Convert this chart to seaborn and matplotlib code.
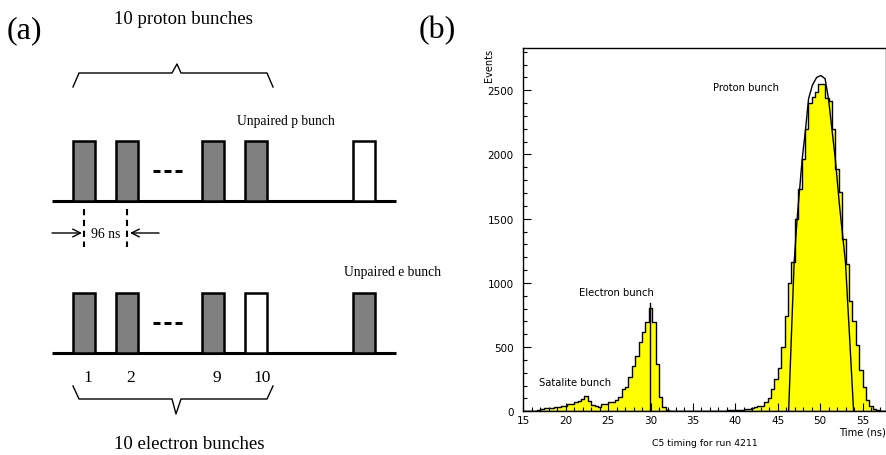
import numpy as np
import pandas as pd
import matplotlib
matplotlib.use("Agg")
import matplotlib.pyplot as plt
from matplotlib.patches import Rectangle
from matplotlib.ticker import MultipleLocator
import seaborn as sns

# ---------------- data ----------------
# (a) bunch diagram
bunch_labels = ["1", "2", "9", "10", ""]
bunch_slots = [0, 1, 3, 4, 6.5]
proton_filled = [True, True, True, True, False]
electron_filled = [True, True, True, False, True]

# (b) C5 timing histogram, 0.4 ns bins starting at 15 ns
bin_start = 15.0
bin_width = 0.4
events = [3, 4, 5, 6, 10, 18, 22, 26, 28, 34,          # 15.0 - 18.6
          36, 42, 45, 55, 60, 72, 80, 92, 122, 83,     # 19.0 - 22.6
          50, 40, 36, 55, 60, 70, 75, 90, 109, 174,    # 23.0 - 26.6
          187, 265, 356, 434, 538, 616, 694, 803, 694, 369,  # 27.0 - 30.6
          110, 30, 10, 5, 4, 3, 3, 2, 3, 4,            # 31.0 - 34.6
          3, 3, 4, 3, 4, 5, 4, 5, 6, 6,                # 35.0 - 38.6
          7, 8, 10, 12, 13, 16, 18, 26, 33, 40,        # 39.0 - 42.6
          44, 70, 100, 170, 250, 340, 500, 745, 1000, 1161,   # 43.0 - 46.6
          1500, 1732, 1966, 2200, 2400, 2450, 2486, 2550, 2550, 2440,  # 47.0 - 50.6
          2420, 2200, 1886, 1706, 1343, 1148, 862, 700, 520, 320,      # 51.0 - 54.6
          190, 90, 40, 15, 7, 3, 2]                    # 55.0 - 57.4
# fitted curves
proton_fit_t = [46.28, 46.58, 46.93, 47.28, 47.88, 48.28, 48.63, 49.08, 49.58, 50.08,
                50.58, 50.98, 51.38, 51.78, 52.28, 52.68, 52.98, 53.48, 53.94]
proton_fit_v = [0, 540, 1160, 1500, 1966, 2200, 2434, 2540, 2600, 2615,
                2590, 2434, 2200, 1966, 1600, 1350, 1161, 560, 0]
electron_fit_t = [29.94, 29.94]
electron_fit_v = [0, 841]

# ---------------- figure ----------------
fig = plt.figure(figsize=(8.86, 4.56), dpi=100)
serif = "Liberation Serif"

# ----- (a) diagram in pixel-like units -----
axa = fig.add_axes([0, 0, 440 / 886, 1])
axa.set_xlim(0, 440)
axa.set_ylim(456, 0)
axa.axis("off")

x0, pitch, bw = 84, 43, 22
centers = [x0 + pitch * s for s in bunch_slots]
gray = "#808080"

def draw_row(base_y, top_y, filled, dots_y):
    axa.plot([52, 396], [base_y, base_y], color="black", lw=2.2, solid_capstyle="butt")
    for c, f in zip(centers, filled):
        axa.add_patch(Rectangle((c - bw / 2, top_y), bw, base_y - top_y,
                                facecolor=gray if f else "white",
                                edgecolor="black", lw=1.8, zorder=3))
    for a in (153, 164, 175):
        axa.plot([a, a + 7], [dots_y, dots_y], color="black", lw=2.2, solid_capstyle="butt")

draw_row(202, 142, proton_filled, 172)
draw_row(354, 294, electron_filled, 324)

# dashed markers and arrows
for c in centers[:2]:
    axa.plot([c, c], [210, 248], color="black", lw=1.5, ls=(0, (3, 2.2)))
axa.annotate("", xy=(82, 234), xytext=(52, 234),
             arrowprops=dict(arrowstyle="->", lw=1, mutation_scale=14, shrinkA=0, shrinkB=0))
axa.annotate("", xy=(130, 234), xytext=(159, 234),
             arrowprops=dict(arrowstyle="->", lw=1, mutation_scale=14, shrinkA=0, shrinkB=0))
axa.text(106, 235, "96 ns", family=serif, fontsize=9.8, ha="center", va="center")

# braces
axa.plot([73, 79, 172, 177, 181, 267, 273], [88, 74, 74, 65, 74, 74, 88], color="black", lw=1)
axa.plot([73, 79, 172, 176, 181, 267, 273], [387, 400, 400, 415, 400, 400, 387], color="black", lw=1)

# labels
axa.text(24, 31, "(a)", family=serif, fontsize=23, ha="center", va="center")
axa.text(183, 20, "10 proton bunches", family=serif, fontsize=13.5, ha="center", va="center")
axa.text(286, 122, "Unpaired p bunch", family=serif, fontsize=9.8, ha="center", va="center")
axa.text(393, 273, "Unpaired e bunch", family=serif, fontsize=9.8, ha="center", va="center")
axa.text(189, 445, "10 electron bunches", family=serif, fontsize=13.5, ha="center", va="center")
for c, lab in zip(centers, bunch_labels):
    axa.text(c + (6 if lab == "10" else 4), 378, lab,
             family=serif, fontsize=12.5, ha="center", va="center")
axa.text(437, 31, "(b)", family=serif, fontsize=23, ha="center", va="center", clip_on=False)

# ----- (b) histogram -----
axb = fig.add_axes([523.3 / 886, (456 - 412.3) / 456, (885.5 - 523.3) / 886, (412.3 - 49.3) / 456])
n = len(events)
centers_t = bin_start + bin_width * (np.arange(n) + 0.5)
df = pd.DataFrame({"time": centers_t, "events": np.asarray(events, dtype=float)})
sns.histplot(data=df, x="time", weights="events", binwidth=bin_width,
             binrange=(bin_start, bin_start + bin_width * n), element="step",
             fill=True, color="#ffff00", alpha=1.0, linewidth=1.0, ax=axb)
for coll in axb.collections:
    coll.set_facecolor("#ffff00")
    coll.set_edgecolor("black")
    coll.set_linewidth(1.0)
axb.plot(proton_fit_t, proton_fit_v, color="black", lw=1.0)
axb.plot(electron_fit_t, electron_fit_v, color="black", lw=1.0)

axb.set_xlim(15, 57.7)
axb.set_ylim(0, 2827)
axb.xaxis.set_major_locator(MultipleLocator(5))
axb.xaxis.set_minor_locator(MultipleLocator(1))
axb.yaxis.set_major_locator(MultipleLocator(500))
axb.yaxis.set_minor_locator(MultipleLocator(100))
axb.tick_params(which="major", direction="in", length=6, width=0.8, labelsize=7.5, pad=3)
axb.tick_params(axis="y", which="major", pad=7)
axb.tick_params(which="minor", direction="in", length=3, width=0.8)
for sp in axb.spines.values():
    sp.set_linewidth(1.0)
axb.set_xlabel("")
axb.set_ylabel("")
axb.text(1.0, -0.057, "Time (ns)", transform=axb.transAxes, ha="right", va="center", fontsize=7.2)
axb.text(0.5, -0.0846, "C5 timing for run 4211", transform=axb.transAxes, ha="center", va="center", fontsize=6.7)
axb.text(-0.095, 1.0, "Events", transform=axb.transAxes, ha="center", va="top", rotation=90, fontsize=7)
axb.text(37.37, 2526, "Proton bunch", ha="left", va="center", fontsize=7.2)
axb.text(21.57, 929, "Electron bunch", ha="left", va="center", fontsize=7.2)
axb.text(16.85, 228, "Satalite bunch", ha="left", va="center", fontsize=7.2)

fig.savefig("out.png", dpi=100)
